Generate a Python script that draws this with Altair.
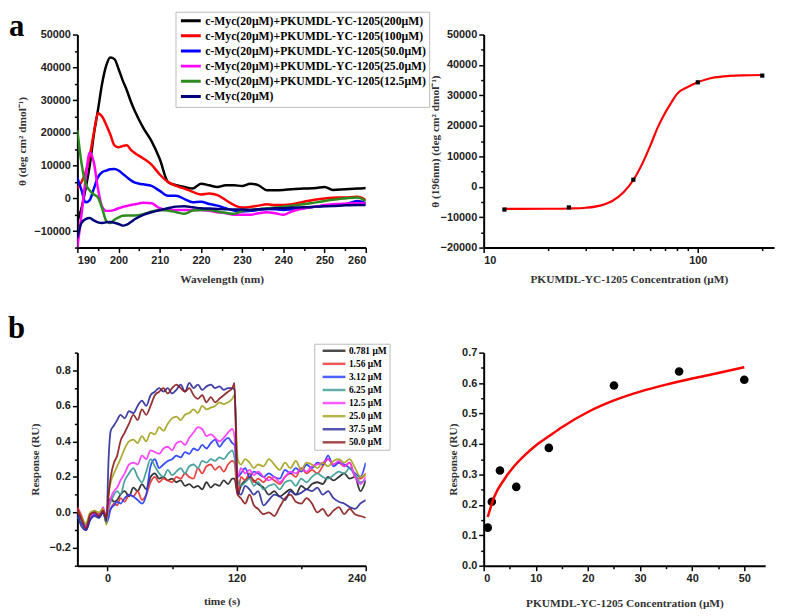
import altair as alt
import pandas as pd

# ---------------- panel a (left): CD spectra ----------------
WAVELENGTH = [190, 191, 192, 193, 194, 195, 196, 197, 198, 199, 200, 201, 202, 203, 204,
              206, 208, 210, 212, 214, 216, 218, 220, 222, 224, 226, 228, 230, 232, 234, 236, 238, 240, 242,
              245, 248, 250, 252, 255, 258, 260]
CD_200 = [-7000, -3000, 3000, 10000, 19500, 27000, 35000, 40500, 43000, 42500, 39500, 36000, 33000, 29500, 26500,
          21500, 17500, 12000, 5000, 4000, 3500, 3000, 4500, 4000, 3500, 4000, 4000, 3800, 4500, 4000, 2500, 2500, 2600, 2800,
          3000, 3200, 3500, 2600, 2800, 3000, 3200]
CD_100 = [3000, 5000, 8000, 13000, 20000, 26000, 25000, 22500, 19500, 16200, 15600, 16000, 16200, 14800, 13800,
          12200, 10300, 7300, 5000, 3800, 3000, 2000, 1200, 1500, 1000, -500, -2000, -2800, -2600, -2200, -1800, -2000, -2000, -1800,
          -1000, -300, 0, 200, 300, 500, -500]
CD_50 = [6300, 2500, -1200, -500, 3000, 6500, 8000, 8500, 8900, 9000, 8500, 7500, 6500, 5500, 4800,
         4300, 3800, 2300, 800, 800, -200, -1200, -1000, -1700, -2200, -3000, -3700, -4000, -3800, -3500, -3200, -3300, -3500, -3300,
         -3000, -2500, -2200, -2000, -1800, -800, -1500]
CD_25 = [-15000, -5000, 6000, 14000, 11000, 3000, -2500, -3800, -3800, -3500, -3000, -2600, -2300, -2000, -1800,
         -1300, -1500, -3000, -3500, -3500, -3500, -3500, -3500, -3800, -4200, -4500, -5000, -5000, -5000, -4500, -4200, -4500, -5000, -4000,
         -3000, -2500, -2000, -1800, -1600, -1500, -1500]
CD_12 = [20800, 10800, 4500, 2400, 1200, 300, -3000, -6800, -7500, -6500, -5800, -5300, -5200, -5200, -5200,
         -4800, -4000, -3500, -3700, -4200, -4700, -3700, -3500, -3500, -4000, -4400, -4700, -3800, -3500, -3300, -3000, -2800, -2500, -2200,
         -1800, -1200, -800, -400, 0, 300, -800]
CD_0 = [-12000, -7500, -6300, -6000, -6700, -7300, -7500, -7300, -7200, -7400, -7800, -8300, -8000, -7200, -6300,
        -5000, -4200, -3600, -3000, -2500, -2400, -2700, -3000, -3100, -3200, -3300, -3400, -3400, -3500, -3300, -3200, -3000, -3000, -2800,
        -2700, -2500, -2400, -2300, -2100, -2000, -2000]
CD_LABELS = ["c-Myc(20μM)+PKUMDL-YC-1205(200μM)", "c-Myc(20μM)+PKUMDL-YC-1205(100μM)",
             "c-Myc(20μM)+PKUMDL-YC-1205(50.0μM)", "c-Myc(20μM)+PKUMDL-YC-1205(25.0μM)",
             "c-Myc(20μM)+PKUMDL-YC-1205(12.5μM)", "c-Myc(20μM)"]
CD_COLORS = ["#000000", "#ff0000", "#0000ff", "#ff00ff", "#2e8b1f", "#00007a"]

# ---------------- panel a (right): dose response at 196 nm ----------------
CONC_A = [12.5, 25, 50, 100, 200]
THETA_196 = [-7500, -6800, 2300, 34300, 36500]
FIT_A_X = [12.5, 15, 20, 25, 30, 35, 40, 45, 50, 55, 60, 65, 70, 75, 80, 90, 100, 110, 120, 140, 160, 200]
FIT_A_Y = [-7300, -7300, -7250, -7150, -6900, -6200, -4600, -1800, 2200, 7500, 13500, 19500, 24000, 27500, 30500,
           32800, 34300, 35300, 35900, 36400, 36600, 36700]

# ---------------- panel b (left): SPR sensorgrams ----------------
T_PRE = [-28, -24, -20, -16, -12, -8, -4, -1]
T_ASSOC = [1, 3, 6, 9, 12, 16, 20, 24, 28, 32, 36, 40, 44, 48, 52, 56, 60, 64, 68, 72, 76, 80, 84, 88, 92, 96,
           100, 104, 108, 112, 116, 118]
T_DISS = [121, 124, 128, 132, 136, 140, 145, 150, 155, 160, 165, 170, 175, 180, 185, 190, 195, 200, 205, 210,
          215, 220, 225, 230, 235, 240]
R_0781 = ([0.0, -0.05, -0.08, -0.02, 0.0, -0.02, 0.01, -0.05]
          + [0.04, 0.08, 0.06, 0.07, 0.1, 0.12, 0.09, 0.14, 0.12, 0.16, 0.13, 0.2, 0.22, 0.19, 0.2, 0.18, 0.19, 0.17,
             0.18, 0.15, 0.16, 0.14, 0.15, 0.13, 0.17, 0.14, 0.16, 0.15, 0.18, 0.16, 0.19, 0.19]
          + [0.1, 0.15, 0.18, 0.2, 0.18, 0.16, 0.14, 0.1, 0.12, 0.09, 0.11, 0.13, 0.1, 0.15, 0.13, 0.16, 0.17, 0.16,
             0.2, 0.18, 0.2, 0.22, 0.19, 0.2, 0.12, 0.18])
R_156 = ([0.03, -0.02, -0.09, -0.03, 0.0, -0.01, 0.02, -0.04]
         + [0.0, 0.02, 0.05, 0.04, 0.08, 0.06, 0.1, 0.09, 0.12, 0.07, 0.1, 0.17, 0.2, 0.17, 0.19, 0.18, 0.17, 0.2,
            0.19, 0.22, 0.2, 0.19, 0.25, 0.22, 0.26, 0.27, 0.24, 0.26, 0.23, 0.27, 0.29, 0.28]
         + [0.1, 0.2, 0.18, 0.22, 0.17, 0.19, 0.17, 0.2, 0.18, 0.16, 0.2, 0.22, 0.2, 0.25, 0.22, 0.24, 0.22, 0.26,
            0.3, 0.27, 0.28, 0.26, 0.28, 0.2, 0.19, 0.22])
R_312 = ([-0.02, -0.06, -0.1, -0.04, -0.01, -0.03, 0.0, -0.06]
         + [-0.03, 0.02, 0.04, 0.06, 0.05, 0.08, 0.1, 0.09, 0.07, 0.05, 0.1, 0.26, 0.3, 0.25, 0.27, 0.29, 0.3, 0.32,
            0.31, 0.34, 0.33, 0.36, 0.35, 0.38, 0.36, 0.39, 0.41, 0.37, 0.4, 0.42, 0.39, 0.38]
         + [0.2, 0.22, 0.25, 0.2, 0.23, 0.22, 0.2, 0.22, 0.2, 0.19, 0.24, 0.22, 0.25, 0.23, 0.27, 0.25, 0.28, 0.27,
            0.32, 0.26, 0.28, 0.27, 0.25, 0.22, 0.2, 0.28])
R_625 = ([-0.03, -0.05, -0.07, -0.02, 0.01, -0.02, 0.01, -0.05]
         + [0.02, 0.06, 0.1, 0.12, 0.1, 0.18, 0.22, 0.25, 0.2, 0.17, 0.23, 0.3, 0.26, 0.22, 0.2, 0.24, 0.21, 0.23,
            0.25, 0.22, 0.26, 0.27, 0.25, 0.29, 0.28, 0.3, 0.29, 0.31, 0.3, 0.33, 0.35, 0.31]
         + [0.18, 0.15, 0.17, 0.19, 0.15, 0.17, 0.13, 0.15, 0.16, 0.13, 0.17, 0.18, 0.15, 0.19, 0.17, 0.2, 0.22, 0.2,
            0.19, 0.21, 0.23, 0.22, 0.25, 0.21, 0.17, 0.18])
R_125 = ([0.02, -0.04, -0.08, -0.03, 0.0, -0.02, 0.03, -0.04]
         + [0.03, 0.08, 0.12, 0.14, 0.18, 0.22, 0.27, 0.28, 0.27, 0.32, 0.3, 0.35, 0.34, 0.33, 0.36, 0.37, 0.35, 0.39,
            0.4, 0.38, 0.42, 0.45, 0.48, 0.47, 0.43, 0.44, 0.42, 0.4, 0.42, 0.45, 0.47, 0.43]
         + [0.2, 0.25, 0.22, 0.24, 0.21, 0.23, 0.2, 0.18, 0.2, 0.17, 0.2, 0.23, 0.22, 0.25, 0.23, 0.26, 0.27, 0.28,
            0.3, 0.27, 0.29, 0.26, 0.28, 0.2, 0.16, 0.2])
R_250 = ([0.01, -0.03, -0.06, 0.0, 0.01, 0.0, 0.02, -0.07]
         + [0.1, 0.17, 0.22, 0.26, 0.3, 0.36, 0.4, 0.41, 0.39, 0.43, 0.4, 0.45, 0.44, 0.48, 0.46, 0.5, 0.53, 0.54,
            0.52, 0.55, 0.56, 0.58, 0.56, 0.6, 0.58, 0.59, 0.6, 0.62, 0.61, 0.62, 0.64, 0.66]
         + [0.3, 0.27, 0.3, 0.28, 0.25, 0.27, 0.26, 0.3, 0.27, 0.24, 0.28, 0.25, 0.29, 0.24, 0.28, 0.27, 0.25, 0.28,
            0.26, 0.29, 0.3, 0.28, 0.3, 0.25, 0.2, 0.21])
R_375 = ([-0.01, -0.08, -0.1, -0.04, -0.02, -0.03, 0.0, -0.05]
         + [0.3, 0.46, 0.49, 0.52, 0.55, 0.53, 0.57, 0.56, 0.6, 0.63, 0.6, 0.66, 0.68, 0.7, 0.68, 0.7, 0.67, 0.69,
            0.72, 0.68, 0.73, 0.7, 0.72, 0.69, 0.71, 0.72, 0.7, 0.71, 0.69, 0.7, 0.7, 0.69]
         + [0.12, 0.1, 0.15, 0.13, 0.1, 0.12, 0.04, 0.07, 0.1, 0.09, 0.07, 0.12, 0.1, 0.11, 0.13, 0.12, 0.14, 0.1,
            0.12, 0.08, 0.06, 0.05, 0.03, 0.02, 0.05, 0.07])
R_500 = ([0.02, -0.04, -0.09, -0.01, 0.0, -0.02, 0.01, -0.03]
         + [0.1, 0.2, 0.28, 0.32, 0.4, 0.45, 0.5, 0.55, 0.52, 0.58, 0.55, 0.6, 0.66, 0.68, 0.7, 0.67, 0.7, 0.72,
            0.7, 0.68, 0.7, 0.66, 0.64, 0.66, 0.62, 0.65, 0.62, 0.64, 0.66, 0.68, 0.7, 0.73]
         + [0.1, 0.08, 0.05, 0.1, 0.04, 0.02, -0.01, 0.0, -0.02, 0.03, 0.08, 0.1, 0.06, 0.05, 0.08, 0.05, 0.0, 0.02,
            -0.02, 0.01, 0.03, -0.01, 0.02, -0.01, -0.02, -0.03])
SPR_LABELS = ["0.781 μM", "1.56 μM", "3.12 μM", "6.25 μM", "12.5 μM", "25.0 μM", "37.5 μM", "50.0 μM"]
SPR_COLORS = ["#202020", "#e8302c", "#1f3cff", "#3a9a96", "#ff33ff", "#a3a31f", "#2b2b9c", "#8b1c1c"]

# ---------------- panel b (right): steady-state binding ----------------
CONC_B = [0.781, 1.56, 3.12, 6.25, 12.5, 25, 37.5, 50]
RESP_B = [0.125, 0.21, 0.313, 0.259, 0.387, 0.592, 0.638, 0.611]
FIT_B_X = [0.781, 2, 4, 6, 8, 10, 12.5, 15, 20, 25, 30, 35, 40, 45, 50]
FIT_B_Y = [0.16, 0.225, 0.285, 0.33, 0.365, 0.395, 0.425, 0.455, 0.505, 0.543, 0.572, 0.595, 0.615, 0.633, 0.652]

# ---------------- data tables ----------------
cd_rows = []
for lab, vals in zip(CD_LABELS, [CD_200, CD_100, CD_50, CD_25, CD_12, CD_0]):
    assert len(vals) == len(WAVELENGTH)
    for i, (w, v) in enumerate(zip(WAVELENGTH, vals)):
        cd_rows.append({"wl": w, "theta": v, "series": lab, "order": i})
cd_df = pd.DataFrame(cd_rows)

T_ALL = T_PRE + T_ASSOC + T_DISS
spr_rows = []
for lab, vals in zip(SPR_LABELS, [R_0781, R_156, R_312, R_625, R_125, R_250, R_375, R_500]):
    assert len(vals) == len(T_ALL)
    for i, (t, v) in enumerate(zip(T_ALL, vals)):
        spr_rows.append({"t": t, "r": v, "series": lab, "order": i})
spr_df = pd.DataFrame(spr_rows)

dose_a = pd.DataFrame({"c": CONC_A, "theta": THETA_196})
fit_a = pd.DataFrame({"c": FIT_A_X, "theta": FIT_A_Y})
dose_b = pd.DataFrame({"c": CONC_B, "r": RESP_B})
fit_b = pd.DataFrame({"c": FIT_B_X, "r": FIT_B_Y})

LABEL_FONT = "Liberation Sans"
TITLE_FONT = "Liberation Serif"


def axis(major_test, label_fmt, values, title, title_pad, **kw):
    base = dict(
        values=values,
        labelExpr=f"({major_test}) ? format(datum.value, '{label_fmt}') : ''",
        tickSize={"condition": {"test": major_test, "value": 5}, "value": 3},
        title=title, titlePadding=title_pad,
        domainColor="black", domainWidth=2, tickColor="black", tickWidth=1.5,
        labelFont=LABEL_FONT, labelFontWeight="bold", labelFontSize=11, labelColor="#222",
        labelPadding=2, labelOverlap=False,
        titleFont=TITLE_FONT, titleFontWeight="bold", titleFontSize=11.5, titleColor="#333",
        grid=False,
    )
    base.update(kw)
    return alt.Axis(**base)


def letter(ch, x, y):
    return alt.Chart(pd.DataFrame({"panel": [ch]})).mark_text(
        font=TITLE_FONT, fontWeight="bold", fontSize=31, align="left", baseline="top", color="black"
    ).encode(text="panel:N", x=alt.value(x), y=alt.value(y))


# ---- a left ----
a1_lines = alt.Chart(cd_df).mark_line(strokeWidth=2.5, clip=True, interpolate="monotone").encode(
    x=alt.X("wl:Q", scale=alt.Scale(domain=[190, 260], nice=False, zero=False),
            axis=axis("datum.value % 10 === 0", "d", list(range(190, 261, 5)), "Wavelength (nm)", 8)),
    y=alt.Y("theta:Q", scale=alt.Scale(domain=[-15000, 50000], nice=False, zero=False),
            axis=axis("datum.value % 10000 === 0", "d", list(range(-15000, 50001, 5000)),
                      "θ (deg cm² dmol⁻¹)", 6)),
    color=alt.Color("series:N", scale=alt.Scale(domain=CD_LABELS, range=CD_COLORS),
                    legend=alt.Legend(title=None, orient="none", legendX=99, legendY=-23,
                                      symbolType="stroke", symbolSize=400, symbolStrokeWidth=3,
                                      symbolOffset=1, clipHeight=12,
                                      labelFont=TITLE_FONT, labelFontWeight="bold", labelFontSize=11.8,
                                      labelColor="black", strokeColor="#bbbbbb", fillColor="white",
                                      padding=3, rowPadding=2.3, labelLimit=0, labelOffset=3)),
    order="order:Q",
)
a1 = alt.layer(a1_lines, letter("a", -69, -23)).properties(width=291, height=215)

# ---- a right ----
xa2 = alt.X("c:Q", scale=alt.Scale(type="log", domain=[10, 227], nice=False),
            axis=axis("datum.value === 10 || datum.value === 100", "d",
                      [10, 20, 30, 40, 50, 60, 70, 80, 90, 100, 200],
                      "PKUMDL-YC-1205 Concentration (μM)", 8))
ya2 = alt.Y("theta:Q", scale=alt.Scale(domain=[-20000, 50000], nice=False, zero=False),
            axis=axis("datum.value % 10000 === 0", "d", list(range(-20000, 50001, 5000)),
                      "θ (196nm) (deg cm² dmol⁻¹)", 0))
a2_line = alt.Chart(fit_a).mark_line(color="#ff0000", strokeWidth=2.2, interpolate="monotone").encode(x=xa2, y=ya2)
a2_pts = alt.Chart(dose_a).mark_point(shape="square", filled=True, size=18, color="black", opacity=1).encode(
    x=xa2, y=ya2)
a2 = alt.layer(a2_line, a2_pts).properties(width=293, height=215)

# ---- b left ----
b1_lines = alt.Chart(spr_df).mark_line(strokeWidth=1.8, clip=True, opacity=0.9, interpolate="monotone").encode(
    x=alt.X("t:Q", scale=alt.Scale(domain=[-28, 240], nice=False, zero=False),
            axis=axis("datum.value % 120 === 0", "d", [0, 60, 120, 180, 240], "time (s)", 12)),
    y=alt.Y("r:Q", scale=alt.Scale(domain=[-0.3, 0.9], nice=False, zero=False),
            axis=axis("abs(round(datum.value * 10)) % 2 === 0", ".1f",
                      [-0.3, -0.2, -0.1, 0.0, 0.1, 0.2, 0.3, 0.4, 0.5, 0.6, 0.7, 0.8, 0.9],
                      "Response (RU)", 9)),
    color=alt.Color("series:N", scale=alt.Scale(domain=SPR_LABELS, range=SPR_COLORS),
                    legend=alt.Legend(title=None, orient="none", legendX=239, legendY=-9,
                                      symbolType="stroke", symbolSize=529, symbolStrokeWidth=2.5,
                                      symbolOpacity=0.8, symbolOffset=5, clipHeight=10.2,
                                      labelFont=TITLE_FONT, labelFontWeight="bold", labelFontSize=9.5,
                                      labelColor="black", strokeColor="#bbbbbb", fillColor="white",
                                      padding=2, rowPadding=2.2, labelLimit=0, labelOffset=2)),
    order="order:Q",
)
b1 = alt.layer(b1_lines, letter("b", -70, -39)).properties(width=291, height=215)

# ---- b right ----
xb2 = alt.X("c:Q", scale=alt.Scale(domain=[0, 54], nice=False, zero=False),
            axis=axis("datum.value % 10 === 0", "d", list(range(0, 55, 5)),
                      "PKUMDL-YC-1205 Concentration (μM)", 14))
yb2 = alt.Y("r:Q", scale=alt.Scale(domain=[0, 0.7], nice=False, zero=False),
            axis=axis("abs(round(datum.value * 100)) % 10 === 0", ".1f",
                      [0, 0.05, 0.1, 0.15, 0.2, 0.25, 0.3, 0.35, 0.4, 0.45, 0.5, 0.55, 0.6, 0.65, 0.7],
                      "Response (RU)", 3))
b2_pts = alt.Chart(dose_b).mark_circle(size=75, color="black", opacity=1).encode(x=xb2, y=yb2)
b2_line = alt.Chart(fit_b).mark_line(color="#ff0000", strokeWidth=2.5, interpolate="monotone").encode(x=xb2, y=yb2)
b2 = alt.layer(b2_pts, b2_line).properties(width=284, height=215)

chart = alt.concat(a1, a2, b1, b2, columns=2, spacing={"row": 106, "column": 119}, bounds="flush").resolve_scale(
    color="independent"
).properties(
    padding={"left": 0, "top": 0, "right": 5, "bottom": 5},
    background="white",
).configure_view(stroke=None)

chart.save("out.html", embed_options={"renderer": "svg", "actions": False})
